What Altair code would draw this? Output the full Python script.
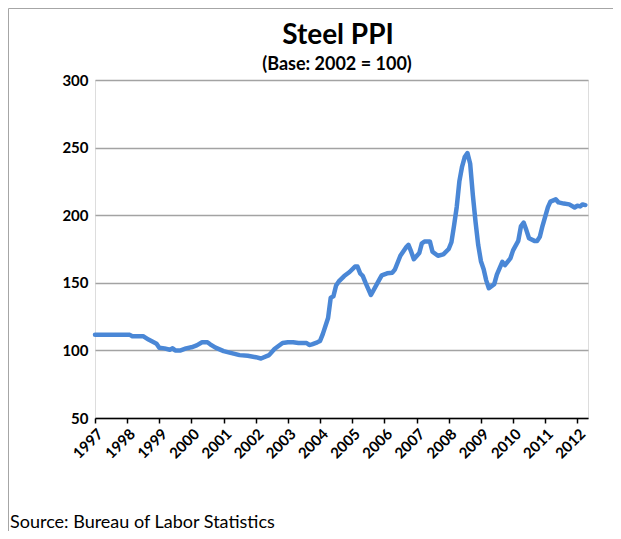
import altair as alt
import pandas as pd

dates = [
    "1997-01", "1997-07", "1998-02", "1998-03", "1998-07", "1998-09", "1998-12",
    "1999-01", "1999-03", "1999-05", "1999-06", "1999-07", "1999-09", "1999-11",
    "2000-01", "2000-03", "2000-05", "2000-07", "2000-08", "2000-10",
    "2001-01", "2001-04", "2001-07", "2001-10",
    "2002-01", "2002-03", "2002-06", "2002-08", "2002-11",
    "2003-01", "2003-03", "2003-05", "2003-08", "2003-09", "2003-10", "2003-12",
    "2004-01", "2004-02", "2004-04", "2004-05", "2004-06", "2004-07", "2004-08", "2004-10", "2004-12",
    "2005-02", "2005-03", "2005-04", "2005-05", "2005-06", "2005-08", "2005-11", "2005-12",
    "2006-02", "2006-04", "2006-05", "2006-07", "2006-08", "2006-09", "2006-10", "2006-11", "2006-12",
    "2007-02", "2007-03", "2007-04", "2007-06", "2007-07", "2007-09", "2007-11",
    "2008-01", "2008-02", "2008-03", "2008-04", "2008-05", "2008-06", "2008-07", "2008-08",
    "2008-09", "2008-10", "2008-11", "2008-12",
    "2009-01", "2009-02", "2009-03", "2009-04", "2009-06", "2009-07", "2009-09", "2009-10", "2009-12",
    "2010-01", "2010-03", "2010-04", "2010-05", "2010-06", "2010-07", "2010-09", "2010-10", "2010-11", "2010-12",
    "2011-02", "2011-03", "2011-05", "2011-06", "2011-08", "2011-10", "2011-12",
    "2012-01", "2012-02", "2012-03", "2012-04",
]
values = [
    111.5, 111.5, 111.5, 110.5, 110.5, 108, 105,
    102, 101.5, 100.5, 101.5, 100, 100, 101.5,
    102.3, 103.7, 106, 106, 104.5, 102,
    99.5, 98, 96.5, 96,
    95, 94, 96.5, 101, 105.5,
    106, 106, 105.5, 105.5, 104, 104.5, 106,
    107, 112, 124, 139, 140, 148, 151, 155, 158,
    162, 162, 157, 155, 150, 141, 152, 155.5,
    157, 157.5, 160, 170, 173, 176, 178, 173, 167.5,
    172, 179, 180.6, 180.6, 173, 170, 171,
    175, 180, 192, 206, 225, 236, 243, 246,
    238, 215, 195, 178,
    166, 160, 152, 146, 149, 156, 165.5, 163, 168,
    174, 181, 192, 194.5, 189, 183, 181, 181, 184, 192,
    206, 210, 211.7, 209.5, 208.6, 208, 205.7,
    207, 206.5, 208, 207.5,
]
y_ticks = [50, 100, 150, 200, 250, 300]
title_text = "Steel PPI"
subtitle_text = "(Base: 2002 = 100)"
source_text = "Source: Bureau of Labor Statistics"

FONT = "Lato"

df = pd.DataFrame({"date": [d + "-01" for d in dates], "ppi": values})

line = alt.Chart(df).mark_line(color="#4a87d6", strokeWidth=4.5, strokeJoin="round", strokeCap="round").encode(
    x=alt.X(
        "date:T",
        scale=alt.Scale(domain=["1997-01-01", "2012-05-01"]),
        axis=alt.Axis(
            title=None,
            format="%Y",
            tickCount={"interval": "year", "step": 1},
            labelAngle=-45,
            labelFont=FONT,
            labelFontSize=15,
            labelFontWeight="bold",
            labelColor="black",
            labelPadding=3,
            labelOverlap=False,
            labelFlush=False,
            ticks=True,
            tickSize=5,
            tickColor="black",
            tickWidth=1.5,
            domain=True,
            domainColor="black",
            domainWidth=1.5,
            grid=False,
        ),
    ),
    y=alt.Y(
        "ppi:Q",
        scale=alt.Scale(domain=[50, 300], nice=False, zero=False),
        axis=alt.Axis(
            title=None,
            values=y_ticks,
            labelFont=FONT,
            labelFontSize=15,
            labelFontWeight="bold",
            labelColor="black",
            labelPadding=7,
            ticks=False,
            domain=False,
            grid=True,
            gridColor="#a3a3a3",
            gridWidth=1.5,
        ),
    ),
)

def text_layer(txt, x, y, size, weight, align="center"):
    return alt.Chart(pd.DataFrame({"t": [txt]})).mark_text(
        align=align, baseline="middle", font=FONT, fontSize=size, fontWeight=weight, color="black"
    ).encode(x=alt.value(x), y=alt.value(y), text="t:N")

title = text_layer(title_text, 243, -44, 28, "bold")
subtitle = text_layer(subtitle_text, 242, -15, 18, "bold")
src = text_layer(source_text, -85, 443, 18, "normal", align="left")

border_left = alt.Chart(pd.DataFrame({"a": [0]})).mark_rule(color="#a6a6a6", strokeWidth=1).encode(
    x=alt.value(-86.5), y=alt.value(-71.5), y2=alt.value(700)
)
border_top = alt.Chart(pd.DataFrame({"a": [0]})).mark_rule(color="#a6a6a6", strokeWidth=1).encode(
    x=alt.value(-86.5), x2=alt.value(800), y=alt.value(-71.5)
)

chart = alt.layer(border_left, border_top, line, title, subtitle, src).properties(
    width=493,
    height=338,
    autosize=alt.AutoSizeParams(type="none"),
    padding={"left": 87, "top": 72, "right": 25, "bottom": 113},
).configure_view(stroke=None).configure(background="white")

chart.save("out.html", embed_options={"renderer": "svg", "actions": False})
